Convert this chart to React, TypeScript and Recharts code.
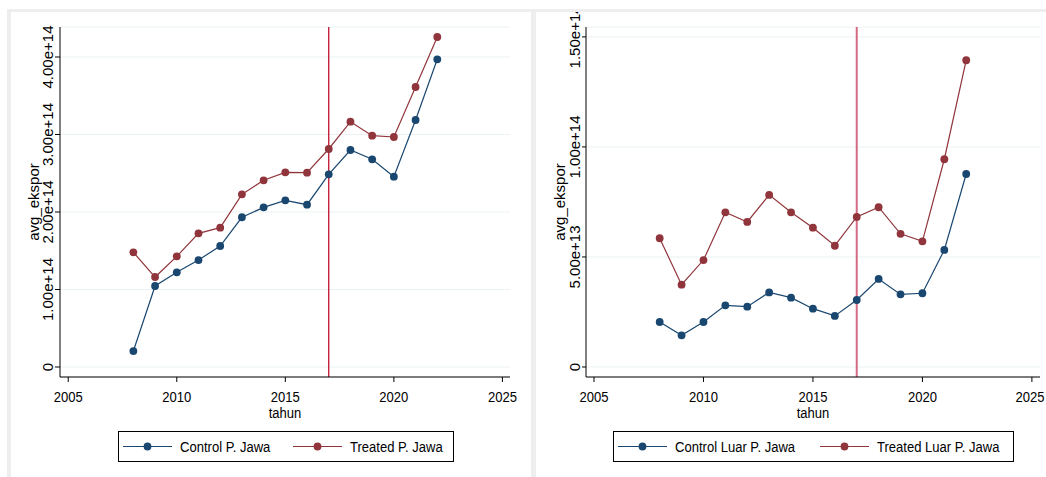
import React from 'react';
import { LineChart, Line, XAxis, YAxis, CartesianGrid, ReferenceLine } from 'recharts';

// tahun
const years = [2008, 2009, 2010, 2011, 2012, 2013, 2014, 2015, 2016, 2017, 2018, 2019, 2020, 2021, 2022];

// P. Jawa, avg_ekspor (x 1e14)
const jawaControl = [0.206, 1.045, 1.222, 1.38, 1.561, 1.932, 2.06, 2.15, 2.094, 2.486, 2.8, 2.68, 2.456, 3.187, 3.97];
const jawaTreated = [1.48, 1.161, 1.428, 1.725, 1.798, 2.228, 2.409, 2.512, 2.507, 2.813, 3.165, 2.985, 2.968, 3.613, 4.258];

// Luar P. Jawa, avg_ekspor (x 1e13)
const luarControl = [2.045, 1.44, 2.045, 2.8, 2.74, 3.39, 3.15, 2.65, 2.32, 3.045, 4.0, 3.3, 3.35, 5.32, 8.77];
const luarTreated = [5.85, 3.74, 4.86, 7.03, 6.59, 7.82, 7.03, 6.33, 5.51, 6.82, 7.26, 6.05, 5.71, 9.44, 13.94];

const xTicks = [2005, 2010, 2015, 2020, 2025];
const jawaYTicks = [0, 1e14, 2e14, 3e14, 4e14];
const luarYTicks = [0, 5e13, 1e14, 1.5e14];
const treatYear = 2017;

const BLUE = '#1a476f';
const RED = '#90353b';
const GRID = '#eaf2f3';
const FONT = "'Liberation Sans', Arial, Helvetica, sans-serif";
const SQ = 0.87; // horizontal squeeze of the source image

const jawaData = years.map((t, i) => ({ tahun: t, control: jawaControl[i] * 1e14, treated: jawaTreated[i] * 1e14 }));
const luarData = years.map((t, i) => ({ tahun: t, control: luarControl[i] * 1e13, treated: luarTreated[i] * 1e13 }));

const fmtSci = (v: number) => (v === 0 ? '0' : v.toExponential(2));

// horizontal text, squeezed like the reference
const HText = ({ x, y, anchor = 'middle', children }: any) => (
  <text
    transform={`translate(${x} ${y}) scale(${SQ} 1)`}
    textAnchor={anchor}
    fontFamily={FONT}
    fontSize={15}
    fill="#000"
  >
    {children}
  </text>
);

const XTick = (props: any) => {
  const { x, y, payload } = props;
  return <HText x={x} y={y + 18}>{payload.value}</HText>;
};

const YTick = (props: any) => {
  const { x, y, payload } = props;
  return (
    <text x={x} y={y} transform={`rotate(-90 ${x} ${y})`} textAnchor="middle" fontFamily={FONT} fontSize={15} fill="#000">
      {fmtSci(payload.value)}
    </text>
  );
};

interface PanelProps {
  data: any[];
  yDomain: [number, number];
  yTicks: number[];
  width: number;
  yWidth: number;
  right: number;
  tickSize: number;
  xDomain: [number, number];
  refStroke: string;
  refWidth: number;
}

function Panel({ data, yDomain, yTicks, width, yWidth, right, tickSize, xDomain, refStroke, refWidth }: PanelProps) {
  return (
    <LineChart width={width} height={465} data={data} margin={{ top: 15, right, bottom: 70, left: 0 }}>
      <CartesianGrid horizontal vertical={false} stroke={GRID} strokeWidth={1} />
      <XAxis
        dataKey="tahun"
        type="number"
        domain={xDomain}
        ticks={xTicks}
        allowDataOverflow
        height={30}
        tickSize={5}
        tickMargin={2}
        axisLine={{ stroke: '#000' }}
        tickLine={{ stroke: '#000' }}
        tick={<XTick />}
        label={{
          content: (p: any) => {
            const vb = p.viewBox;
            return <HText x={vb.x + vb.width / 2} y={vb.y + 41}>tahun</HText>;
          },
        }}
      />
      <YAxis
        type="number"
        domain={yDomain}
        ticks={yTicks}
        allowDataOverflow
        width={yWidth}
        tickSize={tickSize}
        tickMargin={2}
        axisLine={{ stroke: '#000' }}
        tickLine={{ stroke: '#000' }}
        tick={<YTick />}
        label={{
          content: (p: any) => {
            const vb = p.viewBox;
            const lx = vb.x + vb.width - 21;
            const ly = vb.y + vb.height / 2;
            return (
              <text x={lx} y={ly} transform={`rotate(-90 ${lx} ${ly})`} textAnchor="middle" fontFamily={FONT} fontSize={15} fill="#000">
                avg_ekspor
              </text>
            );
          },
        }}
      />
      <ReferenceLine x={treatYear} stroke={refStroke} strokeWidth={refWidth} />
      <Line
        type="linear"
        dataKey="control"
        stroke={BLUE}
        strokeWidth={1.2}
        dot={{ r: 3.9, fill: BLUE, stroke: BLUE, strokeWidth: 0 }}
        isAnimationActive={false}
      />
      <Line
        type="linear"
        dataKey="treated"
        stroke={RED}
        strokeWidth={1.2}
        dot={{ r: 3.9, fill: RED, stroke: RED, strokeWidth: 0 }}
        isAnimationActive={false}
      />
    </LineChart>
  );
}

interface LegendProps {
  left: number;
  width: number;
  items: { label: string; color: string; x: number }[];
}

function LegendBox({ left, width, items }: LegendProps) {
  return (
    <svg style={{ position: 'absolute', left, top: 431 }} width={width} height={31}>
      <rect x={0.5} y={0.5} width={width - 1} height={30} fill="#fff" stroke="#000" strokeWidth={1} />
      {items.map((it) => (
        <g key={it.label}>
          <line x1={it.x} x2={it.x + 49} y1={15.5} y2={15.5} stroke={it.color} strokeWidth={1.2} />
          <circle cx={it.x + 24.5} cy={15.5} r={3.9} fill={it.color} />
          <HText x={it.x + 57} y={21} anchor="start">{it.label}</HText>
        </g>
      ))}
    </svg>
  );
}

export default function App() {
  return (
    <div style={{ position: 'relative', width: 1046, height: 477, background: '#fff', overflow: 'hidden' }}>
      <style>{`body{margin:0}`}</style>
      <div style={{ position: 'absolute', left: 7, top: 9, width: 1039, height: 468, background: '#eeeeee' }} />
      <div style={{ position: 'absolute', left: 11, top: 12, width: 520, height: 465, background: '#fff' }}>
        <Panel
          data={jawaData}
          yDomain={[-0.129e14, 4.387e14]}
          yTicks={jawaYTicks}
          width={520}
          yWidth={49}
          right={21}
          tickSize={5}
          xDomain={[2004.62, 2025.35]}
          refStroke="#c0102e"
          refWidth={1.3}
        />
      </div>
      <div style={{ position: 'absolute', left: 536, top: 12, width: 510, height: 465, background: '#fff' }}>
        <Panel
          data={luarData}
          yDomain={[-4.55e12, 1.545e14]}
          yTicks={luarYTicks}
          width={510}
          yWidth={50}
          right={6}
          tickSize={4}
          xDomain={[2004.635, 2025.37]}
          refStroke="#d66a84"
          refWidth={2}
        />
      </div>
      <LegendBox
        left={118}
        width={336}
        items={[
          { label: 'Control P. Jawa', color: BLUE, x: 5 },
          { label: 'Treated P. Jawa', color: RED, x: 175 },
        ]}
      />
      <LegendBox
        left={613}
        width={401}
        items={[
          { label: 'Control Luar P. Jawa', color: BLUE, x: 5 },
          { label: 'Treated Luar P. Jawa', color: RED, x: 207 },
        ]}
      />
    </div>
  );
}
